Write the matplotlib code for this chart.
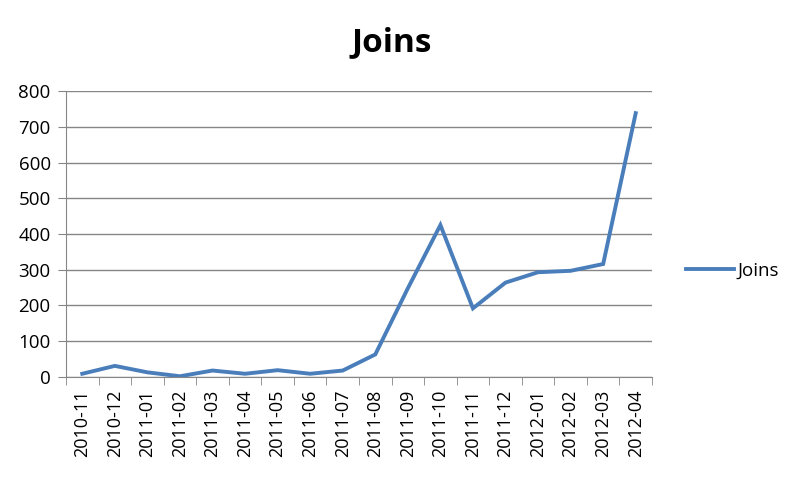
import matplotlib.pyplot as plt
import numpy as np

# data
months = ['2010-11', '2010-12', '2011-01', '2011-02', '2011-03', '2011-04',
          '2011-05', '2011-06', '2011-07', '2011-08', '2011-09', '2011-10',
          '2011-11', '2011-12', '2012-01', '2012-02', '2012-03', '2012-04']
joins = [9, 31, 13, 2, 18, 9, 19, 9, 18, 63, 248, 425,
         192, 264, 293, 297, 316, 738]

plt.rcParams['font.family'] = ['Open Sans', 'DejaVu Sans']

fig = plt.figure(figsize=(8, 4.79), dpi=100)
ax = fig.add_axes([0.0825, 0.213, 0.7325, 0.597])

x = np.arange(len(months))
ax.plot(x, joins, color='#4A7EBB', linewidth=2.8, label='Joins',
        solid_joinstyle='miter')

ax.set_xlim(-0.5, len(months) - 0.5)
ax.set_ylim(0, 800)
ax.set_yticks(range(0, 801, 100))
ax.yaxis.grid(True, color='#868686', linewidth=1)
ax.set_axisbelow(True)

# category labels centred, tick marks on boundaries
ax.set_xticks(x)
ax.set_xticklabels(months, rotation=90, fontsize=13)
ax.set_xticks(np.arange(-0.5, len(months)), minor=True)
ax.tick_params(axis='x', which='major', length=0, pad=9)
ax.tick_params(axis='x', which='minor', length=6, color='#868686', direction='out')
ax.tick_params(axis='y', length=6, color='#868686', labelsize=13.5, pad=5)

for s in ['top', 'right']:
    ax.spines[s].set_visible(False)
for s in ['left', 'bottom']:
    ax.spines[s].set_color('#868686')

fig.text(0.49, 0.912, 'Joins', fontsize=24, fontweight='bold', ha='center', va='center')

fig.legend(loc='center left', bbox_to_anchor=(0.857, 0.435), frameon=False,
           fontsize=13.5, handlelength=2.6, handletextpad=0.15, borderpad=0,
           borderaxespad=0)

fig.savefig('out.png', dpi=100)
